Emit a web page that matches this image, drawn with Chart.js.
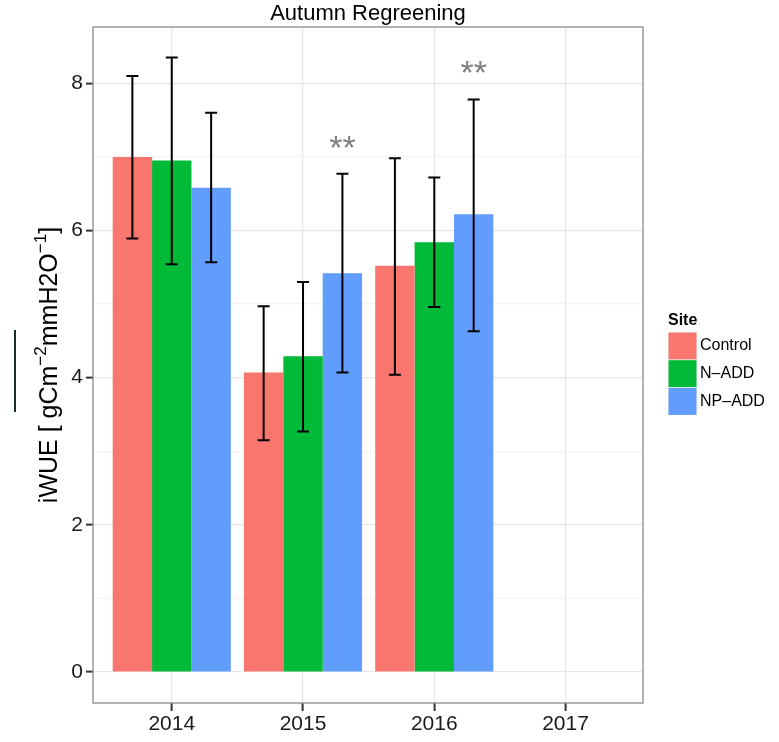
<!DOCTYPE html>
<html><head><meta charset="utf-8">
<script src="https://cdn.jsdelivr.net/npm/chart.js@4/dist/chart.umd.min.js"></script>
<style>html,body{margin:0;padding:0;background:#fff}#wrap{width:779px;height:742px;position:relative}</style>
</head><body><div id="wrap"><canvas id="c" width="779" height="742"></canvas></div>
<script>
const chartTitle = 'Autumn Regreening';
const years = ['2014', '2015', '2016', '2017'];
const sites = ['Control', 'N\u2013ADD', 'NP\u2013ADD'];
const siteColors = ['#F8766D', '#00BA38', '#619CFF'];
const controlMean = [7.00, 4.07, 5.52];
const nAddMean    = [6.95, 4.29, 5.84];
const npAddMean   = [6.58, 5.42, 6.22];
const controlLow  = [5.89, 3.15, 4.04];
const controlHigh = [8.10, 4.97, 6.98];
const nAddLow     = [5.54, 3.27, 4.96];
const nAddHigh    = [8.35, 5.30, 6.72];
const npAddLow    = [5.57, 4.07, 4.63];
const npAddHigh   = [7.60, 6.77, 7.78];
const sigText  = ['', '**', '**'];      // drawn above NP-ADD bars
const sigLevel = [null, 7.20, 8.22];
const yTickLabels = [0, 2, 4, 6, 8];
const yGridValues = [0, 1, 2, 3, 4, 5, 6, 7, 8];

const means = [controlMean, nAddMean, npAddMean];
const lows = [controlLow, nAddLow, npAddLow];
const highs = [controlHigh, nAddHigh, npAddHigh];
const FONT = '"Liberation Sans", Arial, Helvetica, sans-serif';

const decor = {
  id: 'decor',
  beforeDraw(chart) {
    const c = chart.ctx;
    c.save(); c.fillStyle = '#fff'; c.fillRect(0, 0, chart.width, chart.height); c.restore();
  },
  afterDatasetsDraw(chart) {
    const c = chart.ctx, ys = chart.scales.y;
    c.save();
    c.strokeStyle = '#000'; c.lineWidth = 2;
    for (let d = 0; d < means.length; d++) {
      const meta = chart.getDatasetMeta(d);
      meta.data.forEach((el, j) => {
        const x = el.x, y1 = ys.getPixelForValue(lows[d][j]), y2 = ys.getPixelForValue(highs[d][j]);
        c.beginPath();
        c.moveTo(x, y1); c.lineTo(x, y2);
        c.moveTo(x - 6, y1); c.lineTo(x + 6, y1);
        c.moveTo(x - 6, y2); c.lineTo(x + 6, y2);
        c.stroke();
      });
    }
    const meta = chart.getDatasetMeta(2);
    c.fillStyle = '#808080'; c.font = '34px ' + FONT; c.textAlign = 'center'; c.textBaseline = 'alphabetic';
    meta.data.forEach((el, j) => {
      if (!sigText[j]) return;
      c.fillText(sigText[j], el.x, ys.getPixelForValue(sigLevel[j]) + 17);
    });
    c.restore();
  },
  afterDraw(chart) {
    const c = chart.ctx, a = chart.chartArea;
    c.save();
    c.strokeStyle = '#8a8a8a'; c.lineWidth = 1.3;
    c.strokeRect(a.left, a.top, a.right - a.left, a.bottom - a.top);
    c.fillStyle = '#000'; c.font = '22px ' + FONT; c.textAlign = 'center'; c.textBaseline = 'middle';
    c.fillText(chartTitle, (a.left + a.right) / 2, 14);
    const parts = [['iWUE [ gCm', 25, 0], ['\u22122', 17, -11], ['mmH2O', 25, 0], ['\u22121', 17, -11], [']', 25, 0]];
    c.translate(48, 365); c.rotate(-Math.PI / 2);
    let total = 0;
    parts.forEach(p => { c.font = p[1] + 'px ' + FONT; total += c.measureText(p[0]).width; });
    let x = -total / 2;
    c.textAlign = 'left'; c.textBaseline = 'alphabetic';
    parts.forEach(p => { c.font = p[1] + 'px ' + FONT; c.fillText(p[0], x, 9 + p[2]); x += c.measureText(p[0]).width; });
    c.setTransform(1, 0, 0, 1, 0, 0);
    const lx = a.right + 25, ly = a.top + 304;
    c.fillStyle = '#000'; c.font = 'bold 16px ' + FONT; c.textAlign = 'left'; c.textBaseline = 'middle';
    c.fillText('Site', lx, ly - 10);
    sites.forEach((s, i) => {
      const ky = ly + 1 + i * 27.7;
      c.fillStyle = '#f2f2f2'; c.fillRect(lx, ky, 29, 28);
      c.fillStyle = siteColors[i]; c.fillRect(lx + 0.5, ky + 0.5, 28, 27);
      c.fillStyle = '#000'; c.font = '16px ' + FONT;
      c.fillText(s, lx + 32, ky + 14);
    });
    c.strokeStyle = '#1c2b2b'; c.lineWidth = 2;
    c.beginPath(); c.moveTo(15, 330); c.lineTo(15, 412); c.stroke();
    c.restore();
  }
};

const datasets = sites.map((s, i) => ({
  label: s,
  data: means[i].map((v, j) => ({ x: j, y: v })),
  backgroundColor: siteColors[i],
  borderWidth: 0,
  barPercentage: 1,
  categoryPercentage: 0.9
}));

new Chart(document.getElementById('c'), {
  type: 'bar',
  data: { datasets },
  options: {
    responsive: false, animation: false, devicePixelRatio: 1,
    layout: { padding: { top: 27, right: 136, left: 0, bottom: 0 } },
    plugins: { legend: { display: false }, tooltip: { enabled: false }, title: { display: false } },
    scales: {
      x: {
        type: 'linear', min: -0.6, max: 3.59, offset: false,
        afterBuildTicks: s => { s.ticks = years.map((_, i) => ({ value: i })); },
        afterFit: s => { s.height = 39; },
        ticks: { callback: v => years[v], font: { size: 21, family: FONT }, color: '#1a1a1a', padding: 1, maxRotation: 0, autoSkip: false },
        grid: { offset: false, color: '#E6E6E6', lineWidth: 1.2, tickColor: '#333', tickLength: 8, tickWidth: 2 },
        border: { display: false }
      },
      y: {
        type: 'linear', min: -0.42, max: 8.765,
        afterBuildTicks: s => { s.ticks = yGridValues.map(v => ({ value: v })); },
        afterFit: s => { s.width = 93; },
        ticks: { callback: v => yTickLabels.includes(v) ? String(v) : '', font: { size: 21, family: FONT }, color: '#1a1a1a', padding: 3 },
        grid: {
          color: ctx => (ctx.tick && ctx.tick.value % 2 === 0) ? '#E6E6E6' : '#F3F3F3',
          lineWidth: 1.2,
          tickColor: ctx => (ctx.tick && ctx.tick.value % 2 === 0) ? '#333' : 'rgba(0,0,0,0)',
          tickLength: 7, tickWidth: 2
        },
        border: { display: false }
      }
    }
  },
  plugins: [decor]
});
</script></body></html>
